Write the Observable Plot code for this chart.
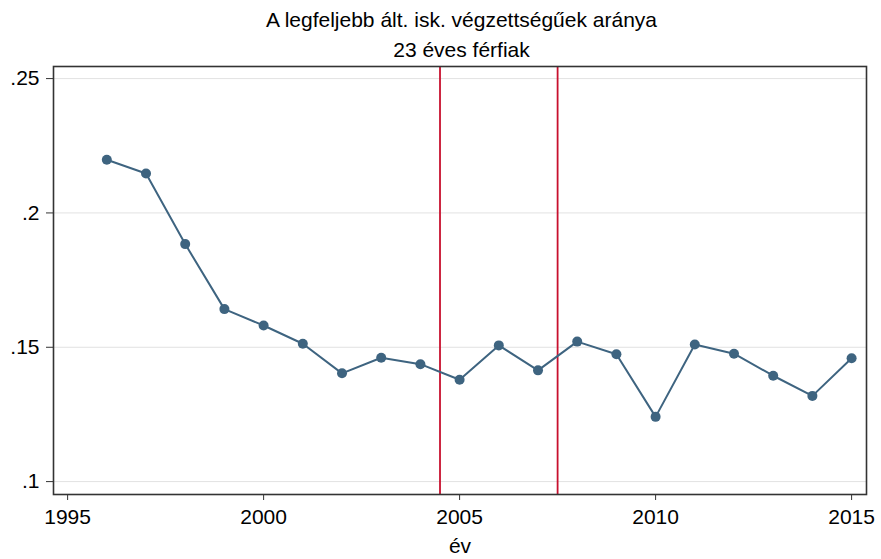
<!DOCTYPE html>
<html>
<head>
<meta charset="utf-8">
<script src="https://cdn.jsdelivr.net/npm/d3@7"></script>
<script src="https://cdn.jsdelivr.net/npm/@observablehq/plot@0.6"></script>
<style>
  body { margin: 0; background: #fff; font-family: "Liberation Sans", Arial, sans-serif; }
  #wrap { width: 881px; height: 559px; position: relative; }
  .t { text-align: center; color: #000; font-size: 21px; width: 881px; padding-left: 42px; box-sizing: border-box; }
  #title { height: 34px; line-height: 40px; }
  #sub { height: 31px; line-height: 32px; }
  svg { display: block; }
</style>
</head>
<body>
<div id="wrap">
  <div id="title" class="t">A legfeljebb ált. isk. végzettségűek aránya</div>
  <div id="sub" class="t">23 éves férfiak</div>
  <div id="chart"></div>
</div>
<script>
const years = [1996,1997,1998,1999,2000,2001,2002,2003,2004,2005,2006,2007,2008,2009,2010,2011,2012,2013,2014,2015];
const shares = [0.2198,0.2147,0.1884,0.1642,0.1581,0.1513,0.1403,0.1461,0.1437,0.1379,0.1507,0.1414,0.1521,0.1474,0.1241,0.1510,0.1476,0.1394,0.1319,0.1459];
const xTicks = [1995,2000,2005,2010,2015];
const yTicks = [0.1,0.15,0.2,0.25];
const yTickLabels = [".1",".15",".2",".25"];
const breakYears = [2004.5,2007.5];
const xLabel = "év";

const data = years.map((y,i) => ({year: y, value: shares[i]}));
const yLab = new Map(yTicks.map((t,i) => [t, yTickLabels[i]]));

const chart = Plot.plot({
  width: 881,
  height: 494,
  marginTop: 1,
  marginBottom: 65,
  marginLeft: 53,
  marginRight: 15,
  style: {fontFamily: '"Liberation Sans", Arial, sans-serif', fontSize: "21px", color: "#000", background: "#fff"},
  x: {domain: [1994.64, 2015.38]},
  y: {domain: [0.0952, 0.2545]},
  marks: [
    Plot.gridY(yTicks, {stroke: "#e2e2e2", strokeOpacity: 1, strokeWidth: 1}),
    Plot.ruleX(breakYears, {stroke: "#c8102e", strokeWidth: 1.8}),
    Plot.line(data, {x: "year", y: "value", stroke: "#3e6480", strokeWidth: 2}),
    Plot.dot(data, {x: "year", y: "value", r: 5, fill: "#3e6480", stroke: "none"}),
    Plot.axisY(yTicks, {tickSize: 7, tickPadding: 7, tickFormat: d => yLab.get(d), stroke: "#333", fontSize: 21, label: null}),
    Plot.axisX(xTicks, {tickSize: 6, tickPadding: 9, tickFormat: d => String(d), stroke: "#333", fontSize: 21, label: null}),
    Plot.text([xLabel], {frameAnchor: "bottom", dy: 58, fontSize: 21, text: d => d}),
    Plot.frame({stroke: "#333", strokeWidth: 1.6})
  ]
});
document.getElementById("chart").appendChild(chart);
</script>
</body>
</html>
